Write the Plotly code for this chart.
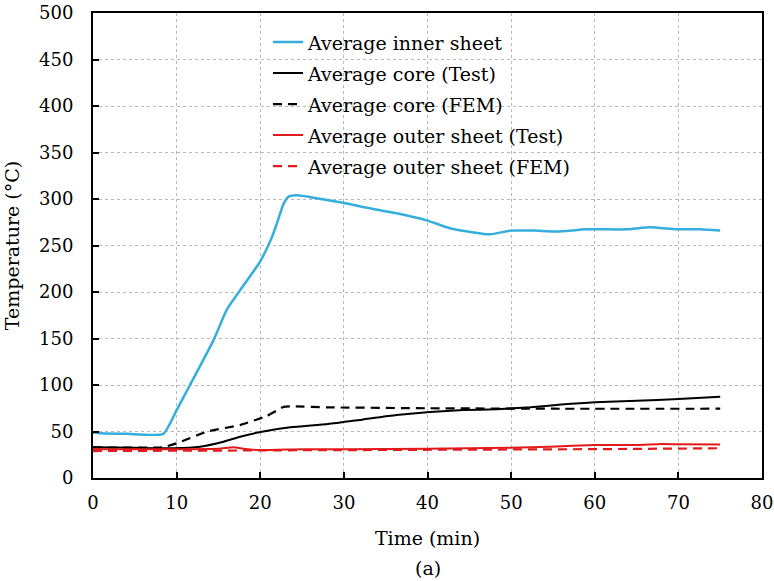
import plotly.graph_objects as go

# Average inner sheet
t_inner = [0, 1, 4, 8.4, 10, 11.6, 14.4, 16, 17.6, 20, 21.4, 22, 22.8, 23.4, 24.4, 26, 29.9, 33.1, 36.3, 39.9, 42.7, 45.5, 47.5, 49.9, 52.7, 55.5, 59, 63.8, 66.6, 69.8, 72.6, 75]
v_inner = [49, 48, 47.5, 47.5, 73, 100, 148, 181, 202, 233, 259, 274, 295, 302.5, 304, 302, 296, 290, 284.6, 277, 268.5, 264, 262, 266, 266, 265, 267.4, 267.4, 269.5, 267.4, 267.4, 266]

# Average core (Test)
t_core = [0, 5, 9.6, 12.8, 15.6, 17.6, 20.2, 23.6, 28.1, 32.3, 36.3, 40.3, 44.3, 48.3, 52.3, 56, 60, 65, 70, 75]
v_core = [33, 32.5, 32, 33.7, 39, 44.4, 49.8, 54.5, 58, 63, 67.7, 71, 73, 74, 76, 79, 81.5, 83, 85, 87.4]

# Average core (FEM)
t_core_fem = [0, 8.3, 10, 13.6, 17.6, 20.8, 22.8, 24, 28, 40, 55, 75]
v_core_fem = [33, 33, 37.3, 49.8, 57, 66.7, 76.5, 77, 76, 75, 74.5, 74.5]

# Average outer sheet (Test)
t_outer = [0, 5, 10, 15, 16.8, 18, 20, 25, 30, 40, 50, 54.7, 60, 65, 68, 70, 75]
v_outer = [31, 31, 31, 31.5, 33, 31.5, 30, 31, 31, 31.5, 32.5, 33.7, 35.5, 35.5, 36.6, 36.3, 36]

# Average outer sheet (FEM)
t_outer_fem = [0, 10, 20, 30, 40, 50, 60, 75]
v_outer_fem = [29, 29.3, 29.5, 29.7, 30, 30.4, 31, 32]

x_ticks = [0, 10, 20, 30, 40, 50, 60, 70, 80]
y_ticks = [0, 50, 100, 150, 200, 250, 300, 350, 400, 450, 500]

FONT = "DejaVu Serif"
BLUE = "#35AEDD"
RED = "#E31A1C"

fig = go.Figure()
fig.add_trace(go.Scatter(x=t_inner, y=v_inner, mode="lines", name="Average inner sheet", legendgroup="g1",
                         line=dict(color=BLUE, width=2.5, shape="spline", smoothing=0.5)))
fig.add_trace(go.Scatter(x=t_core, y=v_core, mode="lines", name="Average core (Test)", legendgroup="g2",
                         line=dict(color="black", width=2, shape="spline", smoothing=0.5)))
fig.add_trace(go.Scatter(x=t_core_fem, y=v_core_fem, mode="lines", name="Average core (FEM)", legendgroup="g3",
                         line=dict(color="black", width=2.2, dash="9px,6px", shape="spline", smoothing=0.4)))
fig.add_trace(go.Scatter(x=t_outer, y=v_outer, mode="lines", name="Average outer sheet (Test)", legendgroup="g4",
                         line=dict(color=RED, width=2, shape="spline", smoothing=0.5)))
fig.add_trace(go.Scatter(x=t_outer_fem, y=v_outer_fem, mode="lines", name="Average outer sheet (FEM)", legendgroup="g5",
                         line=dict(color=RED, width=2.2, dash="9px,6px")))

axis_common = dict(
    showline=True, linecolor="black", linewidth=2, mirror=True,
    ticks="inside", ticklen=6, tickwidth=2, tickcolor="black",
    showgrid=True, gridcolor="#b8b8b8", griddash="dot", gridwidth=1,
    zeroline=False, automargin=False,
    tickfont=dict(family=FONT, size=18, color="black"),
)

fig.update_xaxes(range=[0, 80], tickvals=x_ticks, ticktext=[str(v) for v in x_ticks],
                 title=dict(text="Time (min)", font=dict(family=FONT, size=19, color="black"), standoff=20),
                 ticklabelstandoff=7, **axis_common)
fig.update_yaxes(range=[0, 500], tickvals=y_ticks, ticktext=[str(v) for v in y_ticks],
                 title=dict(text="Temperature (°C)", font=dict(family=FONT, size=19, color="black"), standoff=14),
                 ticklabelstandoff=14, **axis_common)

fig.update_layout(
    width=774, height=581,
    margin=dict(l=93, r=12, t=13, b=103),
    paper_bgcolor="white", plot_bgcolor="white",
    font=dict(family=FONT, color="black"),
    showlegend=True,
    legend=dict(x=0.2616, y=0.978, xanchor="left", yanchor="top",
                font=dict(family=FONT, size=19, color="black"),
                bgcolor="rgba(255,255,255,0)", borderwidth=0,
                tracegroupgap=3.3),
    annotations=[dict(text="(a)", x=0.5, xref="paper", y=-0.165, yref="paper",
                      yanchor="top", showarrow=False,
                      font=dict(family=FONT, size=19, color="black"))],
)

fig.write_html("out.html")
